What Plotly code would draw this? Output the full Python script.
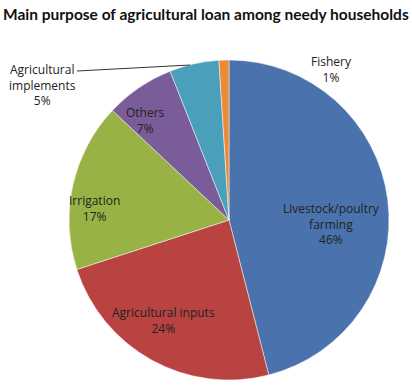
import plotly.graph_objects as go

categories = ["Livestock/poultry farming", "Agricultural inputs", "Irrigation",
              "Others", "Agricultural implements", "Fishery"]
values = [46, 24, 17, 7, 5, 1]
colors = ["#4A72AC", "#B84340", "#98B245", "#7A5C99", "#4AA0BB", "#EC8A36"]

W, H = 412, 387
cx, cy, r = 229, 220, 160

fig = go.Figure(go.Pie(
    labels=categories, values=values, sort=False, direction="clockwise", rotation=0,
    marker=dict(colors=colors, line=dict(color="rgba(255,255,255,0.6)", width=0.8)),
    textinfo="none", hoverinfo="label+percent", showlegend=False,
    domain=dict(x=[(cx - r) / W, (cx + r) / W], y=[1 - (cy + r) / H, 1 - (cy - r) / H]),
))

def px(x, y):
    return x / W, 1 - y / H

label_text = {
    "Livestock/poultry farming": "Livestock/poultry<br>farming<br>46%",
    "Agricultural inputs": "Agricultural inputs<br>24%",
    "Irrigation": "Irrigation<br>17%",
    "Others": "Others<br>7%",
    "Agricultural implements": "Agricultural<br>implements<br>5%",
    "Fishery": "Fishery<br>1%",
}
label_pos = {
    "Livestock/poultry farming": (331, 224),
    "Agricultural inputs": (163, 320),
    "Irrigation": (94, 208),
    "Others": (145, 121),
    "Agricultural implements": (42, 85),
    "Fishery": (331, 69),
}
anns = []
for c, v in zip(categories, values):
    x, y = px(*label_pos[c])
    anns.append(dict(x=x, y=y, xref="paper", yref="paper", text=label_text[c],
                     showarrow=False, font=dict(size=12, color="#222222", family="Open Sans"),
                     align="center", xanchor="center", yanchor="middle"))

x0, y0 = px(77, 71)
x1, y1 = px(190, 65)
fig.add_shape(type="line", x0=x0, y0=y0, x1=x1, y1=y1, xref="paper", yref="paper",
              line=dict(color="#333333", width=1))

fig.update_layout(
    width=W, height=H, margin=dict(l=0, r=0, t=0, b=0),
    paper_bgcolor="white", plot_bgcolor="white",
    annotations=anns + [dict(x=206 / W, y=1 - 14 / H, xref="paper", yref="paper",
                             text="<b>Main purpose of agricultural loan among needy households</b>",
                             showarrow=False, font=dict(size=15.5, color="#111111", family="Lato"),
                             xanchor="center", yanchor="middle")],
)
fig.write_html("out.html", config={"displayModeBar": False},
               post_script="document.body.style.margin='0';")
